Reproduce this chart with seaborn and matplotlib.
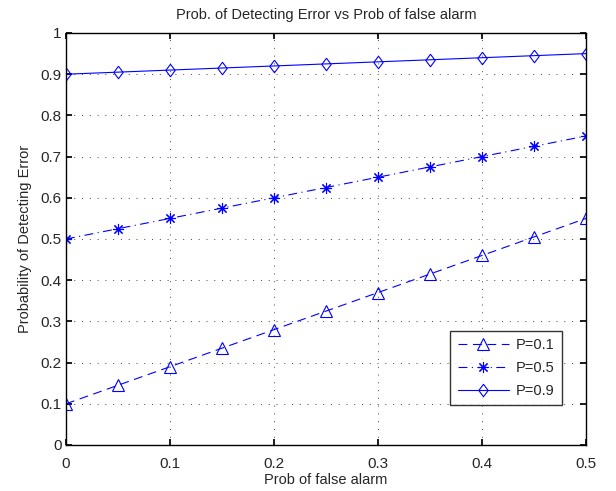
import numpy as np
import pandas as pd
import matplotlib
matplotlib.use("Agg")
import matplotlib.pyplot as plt
import seaborn as sns

x_vals = [0, 0.05, 0.1, 0.15, 0.2, 0.25, 0.3, 0.35, 0.4, 0.45, 0.5]
p01 = [0.1, 0.145, 0.19, 0.235, 0.28, 0.325, 0.37, 0.415, 0.46, 0.505, 0.55]
p05 = [0.5, 0.525, 0.55, 0.575, 0.6, 0.625, 0.65, 0.675, 0.7, 0.725, 0.75]
p09 = [0.9, 0.905, 0.91, 0.915, 0.92, 0.925, 0.93, 0.935, 0.94, 0.945, 0.95]
labels = ["P=0.1", "P=0.5", "P=0.9"]

sns.set_theme(style="ticks")
plt.rcParams['font.family'] = ['Liberation Sans', 'DejaVu Sans']

fig = plt.figure(figsize=(6.16, 4.91), dpi=100)
ax = fig.add_axes([66/616, 1-445/491, 520/616, 412/491])

diamond = [(0, 1), (0.75, 0), (0, -1), (-0.75, 0), (0, 1)]
styles = [("^", (0, (8, 5)), 8), ((8, 2, 0), (0, (8, 4, 1, 4)), 8), (diamond, "-", 9)]
for ys, lab, (mk, ls, ms) in zip([p01, p05, p09], labels, styles):
    df = pd.DataFrame({"x": x_vals, "y": ys})
    sns.lineplot(data=df, x="x", y="y", ax=ax, color="blue", linewidth=0.8,
                 linestyle=ls, marker=mk, markersize=ms,
                 markerfacecolor="none",
                 markeredgecolor="blue", markeredgewidth=0.8, label=lab)

ax.set_xlim(0, 0.5)
ax.set_ylim(0, 1)
ax.set_xticks(np.arange(0, 0.51, 0.1))
ax.set_xticklabels(["0", "0.1", "0.2", "0.3", "0.4", "0.5"])
ax.set_yticks(np.arange(0, 1.01, 0.1))
ax.set_yticklabels(["0", "0.1", "0.2", "0.3", "0.4", "0.5", "0.6", "0.7", "0.8", "0.9", "1"])
ax.grid(True, linestyle=(0, (1, 7)), color="#444444", linewidth=0.7)
ax.tick_params(direction="in", top=True, right=True, labelsize=11, length=4, color="black")
ax.tick_params(axis="x", pad=9)
ax.tick_params(axis="y", pad=3)
for s in ax.spines.values():
    s.set_color("black")
    s.set_linewidth(1.0)
ax.set_xlabel("Prob of false alarm", fontsize=10.5, labelpad=1)
ax.set_ylabel("Probability of Detecting Error", fontsize=10.5, labelpad=6)
ax.set_title("Prob. of Detecting Error vs Prob of false alarm", fontsize=10.5, pad=10)

leg = ax.legend(loc="lower right", bbox_to_anchor=(562/616, 1-405/491), bbox_transform=fig.transFigure,
                fontsize=10.5, frameon=True, fancybox=False, edgecolor="black", borderaxespad=0,
                handlelength=3.5, borderpad=0.5, labelspacing=0.6, handletextpad=0.5)
leg.get_frame().set_linewidth(1.0)

fig.savefig("out.png", dpi=100, facecolor="white")
